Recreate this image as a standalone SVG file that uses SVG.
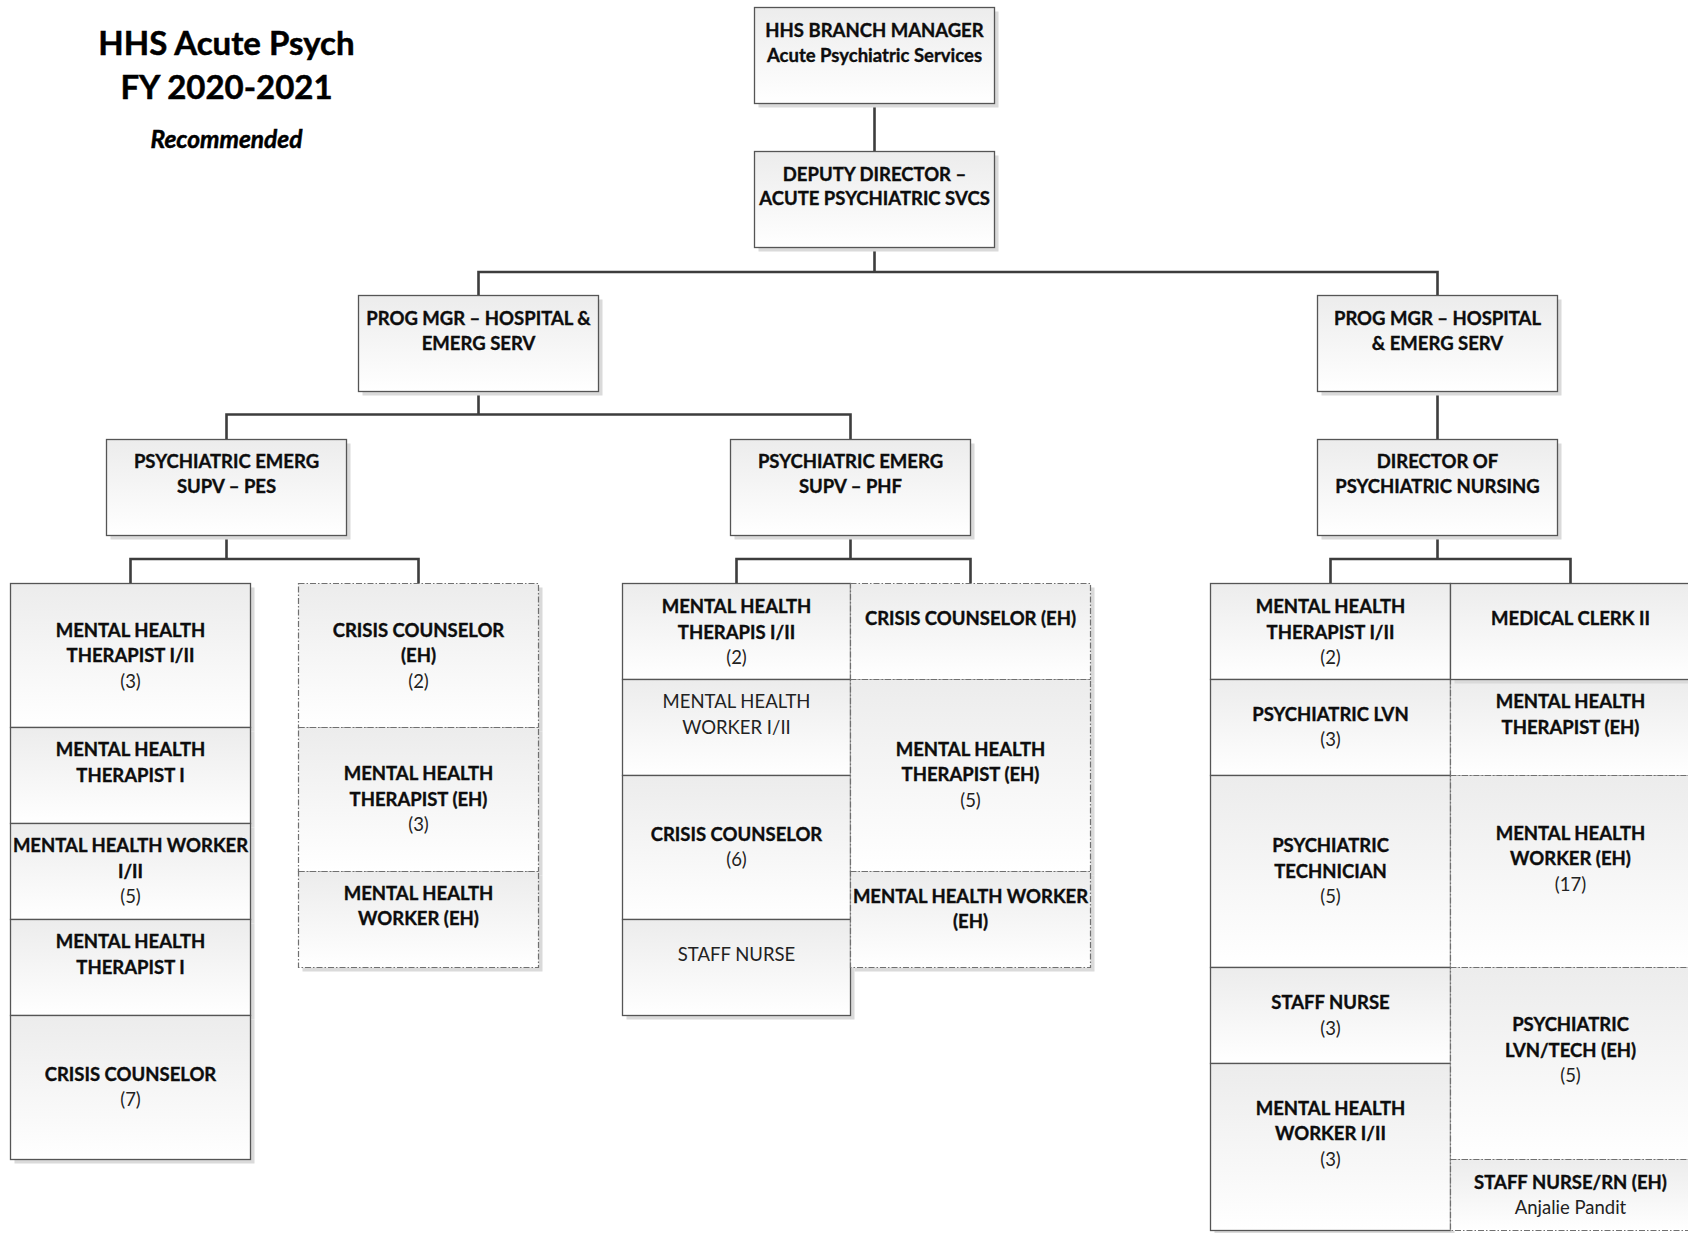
<svg xmlns="http://www.w3.org/2000/svg" width="1688" height="1233" viewBox="0 0 1688 1233">
<defs>
<linearGradient id="g" x1="0" y1="0" x2="0" y2="1">
<stop offset="0" stop-color="#ececec"/>
<stop offset="1" stop-color="#ffffff"/>
</linearGradient>
<style>
.t{font-family:Lato,"Open Sans","Liberation Sans",sans-serif;font-size:18.5px;font-weight:700;fill:#0d0d0d;stroke:#0d0d0d;stroke-width:0.35;text-anchor:middle}
.r{font-weight:400;stroke:none;fill:#222}
.box{fill:url(#g);stroke:#555;stroke-width:1.3}
.dbox{fill:url(#g);stroke:#707070;stroke-width:1.2;stroke-dasharray:6 2 1.5 2}
.sh{fill:#dadada}
.conn{stroke:#3d3d3d;stroke-width:2.6;fill:none}
.title{font-family:Lato,"Open Sans","Liberation Sans",sans-serif;font-weight:700;fill:#000;stroke:#000;stroke-width:0.5;text-anchor:middle}
</style>
</defs>
<rect width="1688" height="1233" fill="#fff"/>

<g id="title">
<text class="title" x="226.5" y="55" font-size="33">HHS Acute Psych</text>
<text class="title" x="226.5" y="99" font-size="33">FY 2020-2021</text>
<text class="title" x="226.5" y="148" font-size="24.5" font-style="italic" stroke-width="0.3">Recommended</text>
</g>

<g id="connectors">
<path class="conn" d="M874.5,103.5V151.5"/>
<path class="conn" d="M874.5,247.5V272M478.5,295.5V272H1437.5V295.5"/>
<path class="conn" d="M478.5,391.5V414.5M226.5,439.5V414.5H850.5V439.5"/>
<path class="conn" d="M1437.5,391.5V439.5"/>
<path class="conn" d="M226.5,535.5V559M130.5,583.5V559H418.5V583.5"/>
<path class="conn" d="M850.5,535.5V559M736.5,583.5V559H970.5V583.5"/>
<path class="conn" d="M1437.5,535.5V559M1330.5,583.5V559H1570.5V583.5"/>
</g>

<g id="n-branch-manager">
<rect class="sh" x="758.5" y="11.5" width="240" height="96"/>
<rect class="box" x="754.5" y="7.5" width="240" height="96"/>
<text class="t" x="874.5" y="37">HHS BRANCH MANAGER</text>
<text class="t" x="874.5" y="61.5">Acute Psychiatric Services</text>
</g>
<g id="n-deputy-director">
<rect class="sh" x="758.5" y="155.5" width="240" height="96"/>
<rect class="box" x="754.5" y="151.5" width="240" height="96"/>
<text class="t" x="874.5" y="180.5">DEPUTY DIRECTOR –</text>
<text class="t" x="874.5" y="205">ACUTE PSYCHIATRIC SVCS</text>
</g>
<g id="n-prog-mgr-left">
<rect class="sh" x="362.5" y="299.5" width="240" height="96"/>
<rect class="box" x="358.5" y="295.5" width="240" height="96"/>
<text class="t" x="478.5" y="324.5">PROG MGR – HOSPITAL &amp;</text>
<text class="t" x="478.5" y="349.5">EMERG SERV</text>
</g>
<g id="n-prog-mgr-right">
<rect class="sh" x="1321.5" y="299.5" width="240" height="96"/>
<rect class="box" x="1317.5" y="295.5" width="240" height="96"/>
<text class="t" x="1437.5" y="324.5">PROG MGR – HOSPITAL</text>
<text class="t" x="1437.5" y="349.5">&amp; EMERG SERV</text>
</g>
<g id="n-supv-pes">
<rect class="sh" x="110.5" y="443.5" width="240" height="96"/>
<rect class="box" x="106.5" y="439.5" width="240" height="96"/>
<text class="t" x="226.5" y="467.5">PSYCHIATRIC EMERG</text>
<text class="t" x="226.5" y="493">SUPV – PES</text>
</g>
<g id="n-supv-phf">
<rect class="sh" x="734.5" y="443.5" width="240" height="96"/>
<rect class="box" x="730.5" y="439.5" width="240" height="96"/>
<text class="t" x="850.5" y="467.5">PSYCHIATRIC EMERG</text>
<text class="t" x="850.5" y="493">SUPV – PHF</text>
</g>
<g id="n-dir-nursing">
<rect class="sh" x="1321.5" y="443.5" width="240" height="96"/>
<rect class="box" x="1317.5" y="439.5" width="240" height="96"/>
<text class="t" x="1437.5" y="467.5">DIRECTOR OF</text>
<text class="t" x="1437.5" y="493">PSYCHIATRIC NURSING</text>
</g>

<!-- PES left column -->
<g id="n-pes-mht-1">
<rect class="sh" x="14.5" y="587.5" width="240" height="144"/>
<rect class="box" x="10.5" y="583.5" width="240" height="144"/>
<text class="t" x="130.5" y="636.5">MENTAL HEALTH</text>
<text class="t" x="130.5" y="662">THERAPIST I/II</text>
<text class="t r" x="130.5" y="687.5">(3)</text>
</g>
<g id="n-pes-mht-2">
<rect class="sh" x="14.5" y="731.5" width="240" height="96"/>
<rect class="box" x="10.5" y="727.5" width="240" height="96"/>
<text class="t" x="130.5" y="756">MENTAL HEALTH</text>
<text class="t" x="130.5" y="781.5">THERAPIST I</text>
</g>
<g id="n-pes-mhw">
<rect class="sh" x="14.5" y="827.5" width="240" height="96"/>
<rect class="box" x="10.5" y="823.5" width="240" height="96"/>
<text class="t" x="130.5" y="852">MENTAL HEALTH WORKER</text>
<text class="t" x="130.5" y="877.5">I/II</text>
<text class="t r" x="130.5" y="903">(5)</text>
</g>
<g id="n-pes-mht-3">
<rect class="sh" x="14.5" y="923.5" width="240" height="96"/>
<rect class="box" x="10.5" y="919.5" width="240" height="96"/>
<text class="t" x="130.5" y="948">MENTAL HEALTH</text>
<text class="t" x="130.5" y="973.5">THERAPIST I</text>
</g>
<g id="n-pes-cc">
<rect class="sh" x="14.5" y="1019.5" width="240" height="144"/>
<rect class="box" x="10.5" y="1015.5" width="240" height="144"/>
<text class="t" x="130.5" y="1080.5">CRISIS COUNSELOR</text>
<text class="t r" x="130.5" y="1106">(7)</text>
</g>

<!-- PES right column -->
<g id="n-pes-cc-eh">
<rect class="sh" x="302.5" y="587.5" width="240" height="144"/>
<rect class="dbox" x="298.5" y="583.5" width="240" height="144"/>
<text class="t" x="418.5" y="636.5">CRISIS COUNSELOR</text>
<text class="t" x="418.5" y="662">(EH)</text>
<text class="t r" x="418.5" y="687.5">(2)</text>
</g>
<g id="n-pes-mht-eh">
<rect class="sh" x="302.5" y="731.5" width="240" height="144"/>
<rect class="dbox" x="298.5" y="727.5" width="240" height="144"/>
<text class="t" x="418.5" y="780">MENTAL HEALTH</text>
<text class="t" x="418.5" y="805.5">THERAPIST (EH)</text>
<text class="t r" x="418.5" y="831">(3)</text>
</g>
<g id="n-pes-mhw-eh">
<rect class="sh" x="302.5" y="875.5" width="240" height="96"/>
<rect class="dbox" x="298.5" y="871.5" width="240" height="96"/>
<text class="t" x="418.5" y="899.5">MENTAL HEALTH</text>
<text class="t" x="418.5" y="925">WORKER (EH)</text>
</g>

<!-- PHF left column -->
<g id="n-phf-mht">
<rect class="sh" x="626.5" y="587.5" width="228" height="96"/>
<rect class="box" x="622.5" y="583.5" width="228" height="96"/>
<text class="t" x="736.5" y="613">MENTAL HEALTH</text>
<text class="t" x="736.5" y="638.5">THERAPIS I/II</text>
<text class="t r" x="736.5" y="664">(2)</text>
</g>
<g id="n-phf-mhw">
<rect class="sh" x="626.5" y="683.5" width="228" height="96"/>
<rect class="box" x="622.5" y="679.5" width="228" height="96"/>
<text class="t r" x="736.5" y="708">MENTAL HEALTH</text>
<text class="t r" x="736.5" y="733.5">WORKER I/II</text>
</g>
<g id="n-phf-cc">
<rect class="sh" x="626.5" y="779.5" width="228" height="144"/>
<rect class="box" x="622.5" y="775.5" width="228" height="144"/>
<text class="t" x="736.5" y="840.5">CRISIS COUNSELOR</text>
<text class="t r" x="736.5" y="866">(6)</text>
</g>
<g id="n-phf-staff-nurse">
<rect class="sh" x="626.5" y="923.5" width="228" height="96"/>
<rect class="box" x="622.5" y="919.5" width="228" height="96"/>
<text class="t r" x="736.5" y="961">STAFF NURSE</text>
</g>

<!-- PHF right column -->
<g id="n-phf-cc-eh">
<rect class="sh" x="854.5" y="587.5" width="240" height="96"/>
<rect class="dbox" x="850.5" y="583.5" width="240" height="96"/>
<text class="t" x="970.5" y="625">CRISIS COUNSELOR (EH)</text>
</g>
<g id="n-phf-mht-eh">
<rect class="sh" x="854.5" y="683.5" width="240" height="192"/>
<rect class="dbox" x="850.5" y="679.5" width="240" height="192"/>
<text class="t" x="970.5" y="755.5">MENTAL HEALTH</text>
<text class="t" x="970.5" y="781">THERAPIST (EH)</text>
<text class="t r" x="970.5" y="806.5">(5)</text>
</g>
<g id="n-phf-mhw-eh">
<rect class="sh" x="854.5" y="875.5" width="240" height="96"/>
<rect class="dbox" x="850.5" y="871.5" width="240" height="96"/>
<text class="t" x="970.5" y="902.5">MENTAL HEALTH WORKER</text>
<text class="t" x="970.5" y="928">(EH)</text>
</g>

<!-- Director of Nursing left column -->
<g id="n-dn-mht">
<rect class="sh" x="1214.5" y="587.5" width="240" height="96"/>
<rect class="box" x="1210.5" y="583.5" width="240" height="96"/>
<text class="t" x="1330.5" y="613">MENTAL HEALTH</text>
<text class="t" x="1330.5" y="638.5">THERAPIST I/II</text>
<text class="t r" x="1330.5" y="664">(2)</text>
</g>
<g id="n-dn-lvn">
<rect class="sh" x="1214.5" y="683.5" width="240" height="96"/>
<rect class="box" x="1210.5" y="679.5" width="240" height="96"/>
<text class="t" x="1330.5" y="720.5">PSYCHIATRIC LVN</text>
<text class="t r" x="1330.5" y="746">(3)</text>
</g>
<g id="n-dn-tech">
<rect class="sh" x="1214.5" y="779.5" width="240" height="192"/>
<rect class="box" x="1210.5" y="775.5" width="240" height="192"/>
<text class="t" x="1330.5" y="852">PSYCHIATRIC</text>
<text class="t" x="1330.5" y="877.5">TECHNICIAN</text>
<text class="t r" x="1330.5" y="903">(5)</text>
</g>
<g id="n-dn-staff-nurse">
<rect class="sh" x="1214.5" y="971.5" width="240" height="96"/>
<rect class="box" x="1210.5" y="967.5" width="240" height="96"/>
<text class="t" x="1330.5" y="1009">STAFF NURSE</text>
<text class="t r" x="1330.5" y="1034.5">(3)</text>
</g>
<g id="n-dn-mhw">
<rect class="sh" x="1214.5" y="1067.5" width="240" height="167"/>
<rect class="box" x="1210.5" y="1063.5" width="240" height="167"/>
<text class="t" x="1330.5" y="1114.5">MENTAL HEALTH</text>
<text class="t" x="1330.5" y="1140">WORKER I/II</text>
<text class="t r" x="1330.5" y="1165.5">(3)</text>
</g>

<!-- Director of Nursing right column -->
<g id="n-dn-mht-eh">
<rect class="sh" x="1454.5" y="683.5" width="240" height="96"/>
<rect class="dbox" x="1450.5" y="679.5" width="240" height="96"/>
<text class="t" x="1570.5" y="708">MENTAL HEALTH</text>
<text class="t" x="1570.5" y="733.5">THERAPIST (EH)</text>
</g>
<g id="n-dn-clerk">
<rect class="sh" x="1454.5" y="587.5" width="240" height="96"/>
<rect class="box" x="1450.5" y="583.5" width="240" height="96"/>
<text class="t" x="1570.5" y="625">MEDICAL CLERK II</text>
</g>
<g id="n-dn-mhw-eh">
<rect class="sh" x="1454.5" y="779.5" width="240" height="192"/>
<rect class="dbox" x="1450.5" y="775.5" width="240" height="192"/>
<text class="t" x="1570.5" y="839.5">MENTAL HEALTH</text>
<text class="t" x="1570.5" y="865">WORKER (EH)</text>
<text class="t r" x="1570.5" y="890.5">(17)</text>
</g>
<g id="n-dn-lvn-tech-eh">
<rect class="sh" x="1454.5" y="971.5" width="240" height="192"/>
<rect class="dbox" x="1450.5" y="967.5" width="240" height="192"/>
<text class="t" x="1570.5" y="1031">PSYCHIATRIC</text>
<text class="t" x="1570.5" y="1056.5">LVN/TECH (EH)</text>
<text class="t r" x="1570.5" y="1082">(5)</text>
</g>
<g id="n-dn-rn-eh">
<rect class="dbox" x="1450.5" y="1159.5" width="240" height="71"/>
<text class="t" x="1570.5" y="1188.5">STAFF NURSE/RN (EH)</text>
<text class="t r" x="1570.5" y="1214">Anjalie Pandit</text>
</g>
</svg>
